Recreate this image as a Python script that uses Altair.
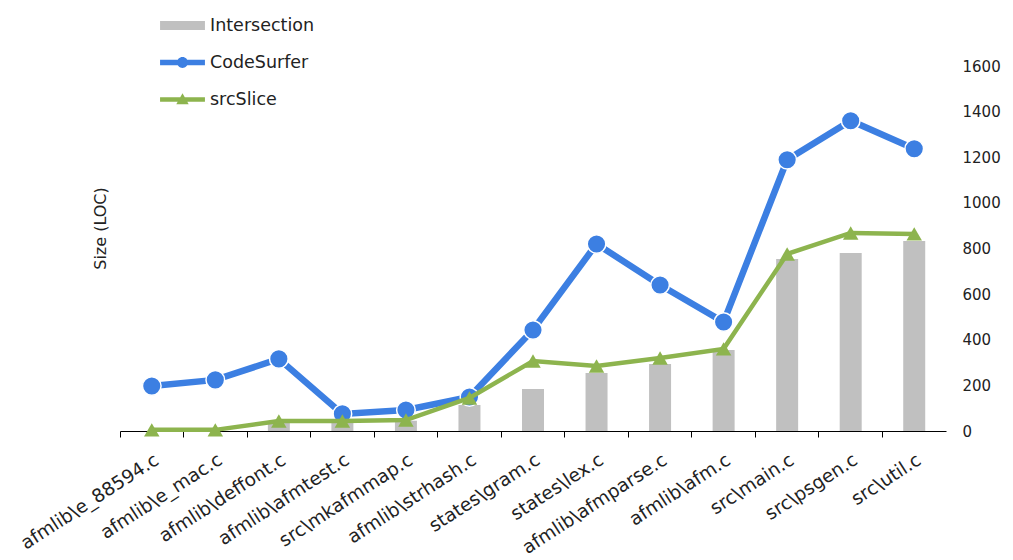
import altair as alt
import pandas as pd

categories = ["afmlib\\e_88594.c", "afmlib\\e_mac.c", "afmlib\\deffont.c", "afmlib\\afmtest.c",
              "src\\mkafmmap.c", "afmlib\\strhash.c", "states\\gram.c", "states\\lex.c",
              "afmlib\\afmparse.c", "afmlib\\afm.c", "src\\main.c", "src\\psgen.c", "src\\util.c"]
intersection = [0, 0, 42, 42, 45, 114, 184, 254, 294, 355, 754, 780, 833]
codesurfer = [197, 224, 316, 75, 92, 149, 443, 820, 640, 478, 1189, 1360, 1237]
srcslice = [5, 5, 44, 44, 48, 145, 307, 285, 320, 360, 776, 868, 864]
series_names = ["Intersection", "CodeSurfer", "srcSlice"]
series_colors = ["#c0c0c0", "#3c7fe2", "#8db44e"]
y_ticks = [0, 200, 400, 600, 800, 1000, 1200, 1400, 1600]

rows = []
for name, vals in zip(series_names, [intersection, codesurfer, srcslice]):
    for c, v in zip(categories, vals):
        rows.append({"cat": c, "series": name, "value": v})
df = pd.DataFrame(rows)

FONT = "DejaVu Sans"
TXT = "#222222"

x_enc = alt.X("cat:N", sort=categories,
              scale=alt.Scale(paddingInner=0, paddingOuter=0),
              axis=alt.Axis(title=None, labelAngle=-33, labelFontSize=18.5, labelFont=FONT,
                            labelColor=TXT, domainColor="#000000", tickColor="#000000",
                            tickSize=6, bandPosition=0, labelPadding=13, grid=False,
                            labelLimit=400))

yscale = alt.Scale(domain=[0, 1600], nice=False, zero=True)

shape_expr = ("datum.value === 'Intersection' ? 'M-1.23,-0.25H1.23V0.25H-1.23Z' : "
              "datum.value === 'CodeSurfer' ? "
              "'M-1.23,-0.15H1.23V0.15H-1.23Z M0.3,0A0.3,0.3 0 1,1 -0.3,0A0.3,0.3 0 1,1 0.3,0Z' : "
              "'M-1.23,-0.12H1.23V0.12H-1.23Z M0,-0.34L0.34,0.26H-0.34Z'")

legend = alt.Legend(orient="none", legendX=44, legendY=-59, title=None,
                    symbolSize=1332, labelFontSize=17.5, labelFont=FONT, labelColor=TXT,
                    labelOffset=9, rowPadding=10, padding=0,
                    symbolType={"expr": shape_expr},
                    symbolStrokeWidth=0, symbolOpacity=1)

color_scale = alt.Scale(domain=series_names, range=series_colors)

bars = alt.Chart(df).transform_filter(alt.datum.series == "Intersection").mark_bar(size=22).encode(
    x=x_enc,
    y=alt.Y("value:Q", scale=yscale,
            axis=alt.Axis(orient="right", title=None, domain=False, ticks=False, grid=False,
                          values=y_ticks, format="d", labelPadding=16, labelFontSize=15,
                          labelFont=FONT, labelColor=TXT, labelAlign="left")),
    color=alt.Color("series:N", scale=color_scale, legend=legend),
)

def yy(axis):
    return alt.Y("value:Q", scale=yscale, axis=axis)

left_axis = alt.Axis(orient="left", title="Size (LOC)", labels=False, ticks=False, domain=False,
                     grid=False, titleFontSize=16, titleFont=FONT, titleFontWeight="normal",
                     titleColor=TXT, titlePadding=12, titleY=162)

cs_line = alt.Chart(df).transform_filter(alt.datum.series == "CodeSurfer").mark_line(strokeWidth=6.5).encode(
    x=x_enc, y=yy(left_axis), color=alt.Color("series:N", scale=color_scale, legend=None))
cs_pts = alt.Chart(df).transform_filter(alt.datum.series == "CodeSurfer").mark_point(
    filled=True, shape="circle", size=346, stroke="white", strokeWidth=1.5, opacity=1).encode(
    x=x_enc, y=yy(None), color=alt.Color("series:N", scale=color_scale, legend=None))
ss_line = alt.Chart(df).transform_filter(alt.datum.series == "srcSlice").mark_line(strokeWidth=4.5).encode(
    x=x_enc, y=yy(None), color=alt.Color("series:N", scale=color_scale, legend=None))
ss_pts = alt.Chart(df).transform_filter(alt.datum.series == "srcSlice").mark_point(
    filled=True, shape="triangle-up", size=240, opacity=1).encode(
    x=x_enc, y=yy(None), color=alt.Color("series:N", scale=color_scale, legend=None))

chart = alt.layer(bars, cs_line, cs_pts, ss_line, ss_pts).resolve_scale(
    y="independent"
).properties(
    width=826, height=365,
    padding={"left": 120, "top": 66, "right": 67, "bottom": 129},
    autosize=alt.AutoSizeParams(type="none"),
    background="white",
).configure_view(stroke=None)

chart.save("out.html", embed_options={"renderer": "svg", "actions": False})
